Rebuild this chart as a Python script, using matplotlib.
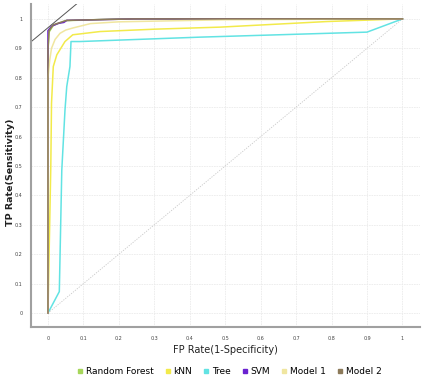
import numpy as np
import matplotlib
matplotlib.use("Agg")
import matplotlib.pyplot as plt
from matplotlib.lines import Line2D

# ROC curves (FP rate, TP rate)
rf_fpr = [0, 0, 0.003, 0.015, 0.03, 0.05, 0.2, 1.0]
rf_tpr = [0, 0.89, 0.955, 0.978, 0.985, 0.994, 1.0, 1.0]

knn_fpr = [0, 0.008, 0.01, 0.015, 0.025, 0.048, 0.07, 0.147, 0.3, 0.486, 0.787, 1.0]
knn_tpr = [0, 0.5, 0.713, 0.838, 0.878, 0.923, 0.946, 0.957, 0.965, 0.972, 0.991, 1.0]

tree_fpr = [0, 0.032, 0.039, 0.048, 0.053, 0.062, 0.065, 0.09, 0.43, 0.90, 1.0]
tree_tpr = [0, 0.073, 0.486, 0.69, 0.77, 0.838, 0.923, 0.923, 0.938, 0.955, 1.0]

svm_fpr = [0, 0, 0.01, 0.03, 0.045, 0.053, 0.245, 1.0]
svm_tpr = [0, 0.96, 0.975, 0.985, 0.988, 0.995, 1.0, 1.0]

m1_fpr = [0, 0, 0.005, 0.01, 0.02, 0.034, 0.05, 0.07, 0.12, 0.2, 0.5, 1.0]
m1_tpr = [0, 0.80, 0.86, 0.90, 0.93, 0.951, 0.962, 0.969, 0.984, 0.99, 0.997, 1.0]

m2_fpr = [0, 0, 0.003, 0.015, 0.03, 0.053, 0.245, 1.0]
m2_tpr = [0, 0.895, 0.96, 0.98, 0.986, 0.995, 1.0, 1.0]

names = ["Random Forest", "kNN", "Tree", "SVM", "Model 1", "Model 2"]
colors = ["#a6d65a", "#f2ea4a", "#62e3e3", "#6a22d0", "#f0e6a0", "#8c7a5a"]
curves = [(rf_fpr, rf_tpr), (knn_fpr, knn_tpr), (tree_fpr, tree_tpr),
          (svm_fpr, svm_tpr), (m1_fpr, m1_tpr), (m2_fpr, m2_tpr)]
ticks = np.round(np.arange(0, 1.01, 0.1), 1)
tick_labels = ["0", "0.1", "0.2", "0.3", "0.4", "0.5", "0.6", "0.7", "0.8", "0.9", "1"]

fig = plt.figure(figsize=(4.24, 3.8), dpi=100)
ax = fig.add_axes([0.073, 0.139, 0.918, 0.85])

ax.grid(True, color="#ebebeb", lw=0.6, ls=(0, (2, 1)))
ax.set_axisbelow(True)

# chance diagonal
ax.plot([0, 1], [0, 1], color="#c8c8c8", lw=0.6, ls=(0, (1.5, 1.5)))

for (fx, ty), c in zip(curves, colors):
    ax.plot(fx, ty, color=c, lw=1.1)

# iso-performance line
ax.plot([-0.2, 0.3], [0.77, 1.27], color="#555555", lw=0.7)

ax.set_xlim(-0.048, 1.05)
ax.set_ylim(-0.048, 1.05)
ax.set_xticks(ticks)
ax.set_xticklabels(tick_labels)
ax.set_yticks(ticks)
ax.set_yticklabels(tick_labels)
ax.tick_params(length=0, labelsize=3.5, labelcolor="#444444", pad=6)

for s in ["top", "right"]:
    ax.spines[s].set_visible(False)
for s in ["left", "bottom"]:
    ax.spines[s].set_color("#a0a0a0")
    ax.spines[s].set_linewidth(1.5)

ax.set_xlabel("FP Rate(1-Specificity)", fontsize=7, color="#222222", labelpad=3)
ax.set_ylabel("TP Rate(Sensitivity)", fontsize=6.8, color="#222222", fontweight="bold")
ax.yaxis.set_label_coords(-0.042, 0.48)

handles = [Line2D([], [], marker="s", ls="", color=c, markersize=3.5) for c in colors]
fig.legend(handles, names, loc="lower center", bbox_to_anchor=(0.54, -0.01),
           ncol=6, frameon=False, fontsize=6.5, handletextpad=0.2,
           columnspacing=1.2, handlelength=0.8)

fig.savefig("out.png", dpi=100)
